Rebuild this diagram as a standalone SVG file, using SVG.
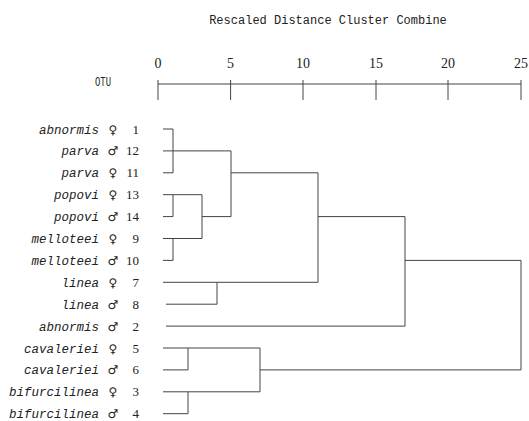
<svg xmlns="http://www.w3.org/2000/svg" width="529" height="421" viewBox="0 0 529 421">
<style>
.t{font-family:"Liberation Mono",monospace;font-size:12px;fill:#222}
.ax{font-family:"Liberation Serif",serif;font-size:14px;fill:#222;text-anchor:middle}
.nm{font-family:"Liberation Mono",monospace;font-style:italic;font-size:12.5px;fill:#222;text-anchor:end}
.sx{font-family:"DejaVu Sans",sans-serif;font-size:12px;fill:#222;text-anchor:middle}
.no{font-family:"Liberation Serif",serif;font-size:13px;fill:#222;text-anchor:end}
.ln{fill:none;stroke:#444;stroke-width:1}
</style>
<rect width="529" height="421" fill="#fff"/>
<text class="t" x="328" y="24" text-anchor="middle">Rescaled Distance Cluster Combine</text>
<g id="axis">
<text class="t" x="95" y="86" font-size="13" textLength="16" lengthAdjust="spacingAndGlyphs">OTU</text>
<text class="ax" x="158" y="68">0</text>
<text class="ax" x="230.6" y="68">5</text>
<text class="ax" x="303" y="68">10</text>
<text class="ax" x="376" y="68">15</text>
<text class="ax" x="448" y="68">20</text>
<text class="ax" x="521" y="68">25</text>
<path class="ln" d="M158 84H521M158 80V100M230.6 80V100M303 80V100M376 80V100M448 80V100M521 80V100"/>
</g>
<g id="labels">
<g id="otu1"><text class="nm" x="99" y="133.5">abnormis</text><text class="sx" x="113" y="133.5">♀</text><text class="no" x="139" y="133.5">1</text></g>
<g id="otu12"><text class="nm" x="99" y="155.4">parva</text><text class="sx" x="113" y="155.4">♂</text><text class="no" x="139" y="155.4">12</text></g>
<g id="otu11"><text class="nm" x="99" y="177.3">parva</text><text class="sx" x="113" y="177.3">♀</text><text class="no" x="139" y="177.3">11</text></g>
<g id="otu13"><text class="nm" x="99" y="199.2">popovi</text><text class="sx" x="113" y="199.2">♀</text><text class="no" x="139" y="199.2">13</text></g>
<g id="otu14"><text class="nm" x="99" y="221.1">popovi</text><text class="sx" x="113" y="221.1">♂</text><text class="no" x="139" y="221.1">14</text></g>
<g id="otu9"><text class="nm" x="99" y="243">melloteei</text><text class="sx" x="113" y="243">♀</text><text class="no" x="139" y="243">9</text></g>
<g id="otu10"><text class="nm" x="99" y="264.9">melloteei</text><text class="sx" x="113" y="264.9">♂</text><text class="no" x="139" y="264.9">10</text></g>
<g id="otu7"><text class="nm" x="99" y="286.8">linea</text><text class="sx" x="113" y="286.8">♀</text><text class="no" x="139" y="286.8">7</text></g>
<g id="otu8"><text class="nm" x="99" y="308.7">linea</text><text class="sx" x="113" y="308.7">♂</text><text class="no" x="139" y="308.7">8</text></g>
<g id="otu2"><text class="nm" x="99" y="330.6">abnormis</text><text class="sx" x="113" y="330.6">♂</text><text class="no" x="139" y="330.6">2</text></g>
<g id="otu5"><text class="nm" x="99" y="352.5">cavaleriei</text><text class="sx" x="113" y="352.5">♀</text><text class="no" x="139" y="352.5">5</text></g>
<g id="otu6"><text class="nm" x="99" y="374.4">cavaleriei</text><text class="sx" x="113" y="374.4">♂</text><text class="no" x="139" y="374.4">6</text></g>
<g id="otu3"><text class="nm" x="99" y="396.3">bifurcilinea</text><text class="sx" x="113" y="396.3">♀</text><text class="no" x="139" y="396.3">3</text></g>
<g id="otu4"><text class="nm" x="99" y="418.2">bifurcilinea</text><text class="sx" x="113" y="418.2">♂</text><text class="no" x="139" y="418.2">4</text></g>
</g>
<g id="connectors">
<path class="ln" d="M163 129H173M163 150.9H173M163 172.8H173M173 129V172.8M173 150.9H231"/>
<path class="ln" d="M163 194.7H202M163 216.6H173M173 194.7V216.6"/>
<path class="ln" d="M163 238.5H202M163 260.4H173M173 238.5V260.4"/>
<path class="ln" d="M202 194.7V238.5M202 216.6H231"/>
<path class="ln" d="M231 150.9V216.6M231 172.8H318"/>
<path class="ln" d="M163 282.3H318M166 304.2H217M217 282.3V304.2"/>
<path class="ln" d="M318 172.8V282.3M318 216.6H405"/>
<path class="ln" d="M166 326.1H405M405 216.6V326.1M405 260.4H521"/>
<path class="ln" d="M163 348H260M163 369.9H188M188 348V369.9"/>
<path class="ln" d="M163 391.8H260M163 413.7H188M188 391.8V413.7"/>
<path class="ln" d="M260 348V391.8M260 369.9H521"/>
<path class="ln" d="M521 260.4V369.9"/>
</g>
</svg>
